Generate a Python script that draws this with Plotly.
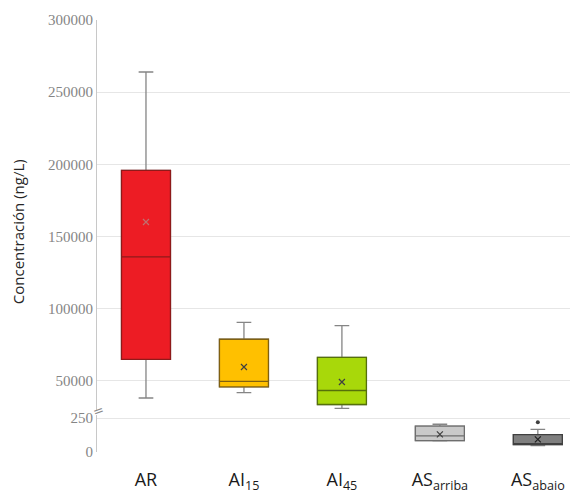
import plotly.graph_objects as go

# ---- data ----
categories = ["AR", "AI<sub>15</sub>", "AI<sub>45</sub>", "AS<sub>arriba</sub>", "AS<sub>abaio</sub>"]
lower_fence = [38200, 42000, 31100, 82, 47]
q1_vals = [65000, 45900, 33700, 84, 54]
medians = [135900, 49800, 43400, 118, 62]
q3_vals = [195900, 78900, 66400, 191, 128]
upper_fence = [264000, 90600, 88400, 204, 167]
means = [160100, 59700, 49300, 130, 93]
outlier_cat = ["AS<sub>abaio</sub>"]
outlier_val = [218]
on_lower_axis = [False, False, False, True, True]

fill_colors = ["#ED1C24", "#FFC000", "#A8D80A", "#C9C9C9", "#7F7F7F"]
edge_colors = ["#8E1A1A", "#806010", "#55700A", "#6E6E6E", "#404040"]
mean_colors = ["#C07070", "#404040", "#404040", "#404040", "#202020"]

fig = go.Figure()

for i, cat in enumerate(categories):
    ya = "y2" if on_lower_axis[i] else "y"
    # whiskers (gray)
    fig.add_trace(go.Box(
        x=[cat], q1=[q1_vals[i]], median=[medians[i]], q3=[q3_vals[i]],
        lowerfence=[lower_fence[i]], upperfence=[upper_fence[i]],
        width=0.5, whiskerwidth=0.3, fillcolor="rgba(0,0,0,0)",
        line=dict(color="#858585", width=1.3), boxpoints=False,
        yaxis=ya, xaxis="x", showlegend=False, hoverinfo="skip"))
    # coloured box
    fig.add_trace(go.Box(
        x=[cat], q1=[q1_vals[i]], median=[medians[i]], q3=[q3_vals[i]],
        lowerfence=[q1_vals[i]], upperfence=[q3_vals[i]],
        width=0.5, whiskerwidth=0.0, fillcolor=fill_colors[i],
        line=dict(color=edge_colors[i], width=1.3), boxpoints=False,
        yaxis=ya, xaxis="x", showlegend=False))
    # mean marker
    fig.add_trace(go.Scatter(
        x=[cat], y=[means[i]], mode="markers", yaxis=ya, xaxis="x",
        marker=dict(symbol="x-thin", size=6, line=dict(color=mean_colors[i], width=1.2)),
        showlegend=False, hoverinfo="skip"))

fig.add_trace(go.Scatter(
    x=outlier_cat, y=outlier_val, mode="markers", yaxis="y2", xaxis="x",
    marker=dict(symbol="circle", size=4, color="#404040"),
    showlegend=False))

tick_font = dict(family="Liberation Serif", size=15, color="#858585")

# page body adds an 8px offset, so the figure is 8px smaller than the window
fig.update_layout(
    width=570, height=485,
    margin=dict(l=89, r=0, t=12, b=41, autoexpand=False),
    paper_bgcolor="white", plot_bgcolor="white",
    boxmode="overlay",
    xaxis=dict(
        type="category", categoryorder="array", categoryarray=categories,
        range=[-0.5, 4.41], anchor="y2", showgrid=False, zeroline=False,
        showline=False, ticks="", ticklabelstandoff=15, automargin=False,
        tickfont=dict(family="Open Sans", size=18, color="#1A1A1A")),
    yaxis=dict(
        domain=[0.0972, 1.0], range=[29900, 300000],
        tick0=0, dtick=50000, tickformat="d", automargin=False,
        showgrid=True, gridcolor="#E6E6E6", gridwidth=1,
        zeroline=False, showline=True, linecolor="#C8C8C8", linewidth=1,
        ticks="", tickfont=tick_font, anchor="x"),
    yaxis2=dict(
        domain=[0.0, 0.0856], range=[0, 272],
        tickvals=[0, 250], ticktext=["0", "250"], automargin=False,
        showgrid=True, gridcolor="#E6E6E6", gridwidth=1,
        zeroline=False, showline=True, linecolor="#C8C8C8", linewidth=1,
        ticks="", tickfont=tick_font, anchor="x"),
)

fig.add_annotation(
    text="Concentración (ng/L)", xref="paper", yref="paper",
    x=-0.164, y=0.509, xanchor="center", yanchor="middle",
    textangle=-90, showarrow=False,
    font=dict(family="Open Sans", size=15, color="#262626"))

fig.add_annotation(
    text="=", xref="paper", yref="paper", x=0.004, y=0.095,
    xanchor="center", yanchor="middle", textangle=-20, showarrow=False,
    font=dict(family="DejaVu Sans", size=13, color="#8A8A8A"))

fig.write_html("out.html")
